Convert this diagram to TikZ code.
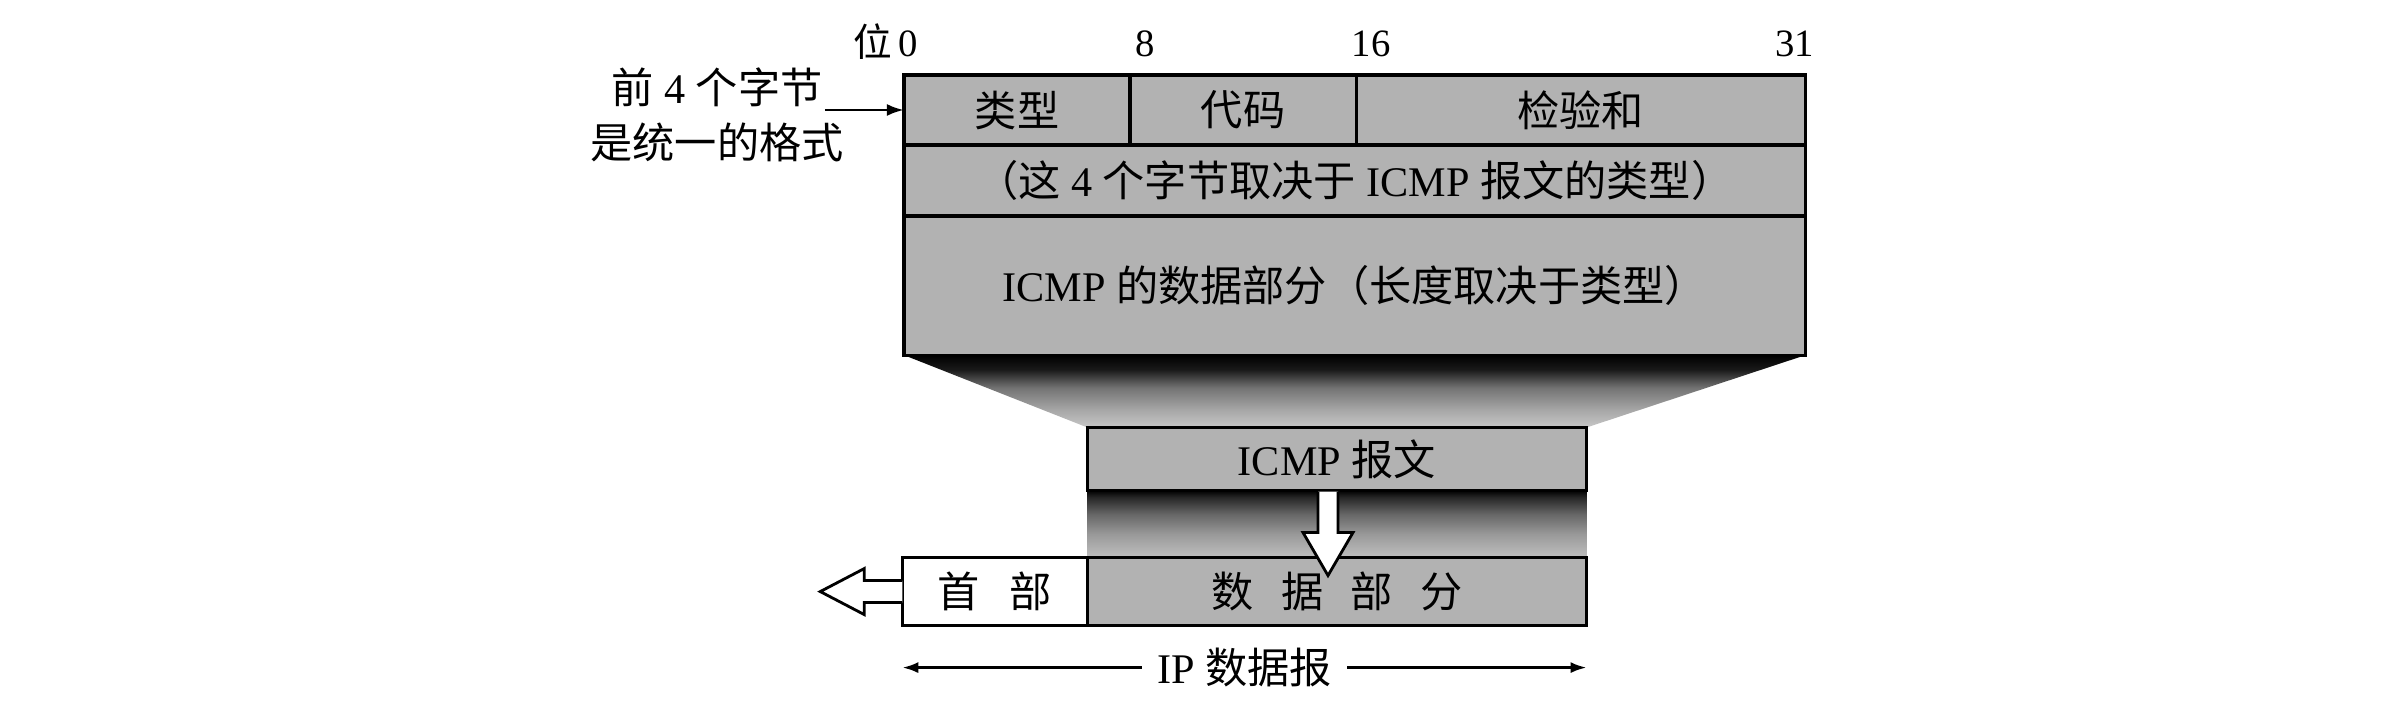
\documentclass[tikz,border=0pt]{standalone}
\usepackage{fontspec}
\setmainfont{Liberation Serif}
\newfontfamily\zh{Noto Sans CJK SC}
\usepackage{tikz}
\usetikzlibrary{positioning,calc,arrows.meta,backgrounds}

% shadow shadings, dark at the top
\pgfdeclareverticalshading{funnel}{100bp}{color(0bp)=(black!22); color(25bp)=(black!22);
  color(37.5bp)=(black!35); color(52.5bp)=(black!55); color(65bp)=(black!90); color(75bp)=(black); color(100bp)=(black)}
\pgfdeclareverticalshading{drop}{100bp}{color(0bp)=(black!25); color(25bp)=(black!25);
  color(42.5bp)=(black!40); color(57.5bp)=(black!60); color(70bp)=(black!85); color(75bp)=(black); color(100bp)=(black)}

\begin{document}
\begin{tikzpicture}[x=0.01cm,y=-0.01cm,
    every node/.style={font=\fontsize{12}{15.6}\selectfont},
    cell/.style={draw,line width=0.9pt,fill=black!30,inner sep=0pt,outer sep=0pt,minimum height=0.70cm},
    bit/.style={anchor=base,font=\fontsize{11}{13}\selectfont},
    hollow/.style={draw,line width=0.8pt,fill=white,line join=miter}]
  \useasboundingbox (0,0) rectangle (2408,722);

  % ICMP header and data
  \node[cell,minimum width=2.26cm] (typ) at (1017,110) {\zh 类型};
  \node[cell,minimum width=2.26cm] (code) [right=0pt of typ] {\zh 代码};
  \node[cell,minimum width=4.49cm] (sum) [right=0pt of code] {\zh 检验和};
  \node[cell,minimum width=9.01cm,minimum height=0.71cm] (opt) [below right=0pt and 0pt of typ.south west]
    {{\zh （这} 4 {\zh 个字节取决于} ICMP {\zh 报文的类型）}};
  \node[cell,minimum width=9.01cm,minimum height=1.39cm] (dat) [below=0pt of opt]
    {ICMP {\zh 的数据部分（长度取决于类型）}};

  % bit positions
  \node[bit,anchor=base east] (b0) at ($(typ.north west)+(26,-18)$) {{\zh 位}\,0};
  \node[bit] (b8) at ($(code.north west)+(15,-18)$) {8};
  \node[bit] (b16) at ($(sum.north west)+(15,-18)$) {16};
  \node[bit] (b31) at ($(sum.north east)+(-11,-18)$) {31};

  \node[align=center] (lead) at (717,115) {{\zh 前} 4 {\zh 个字节}\\{\zh 是统一的格式}};
  \coordinate (fa) at ($(typ.west)+(-79,0)$);
  \draw[line width=0.8pt,-{Latex[length=0.17cm,width=0.12cm]}] (fa) -- (typ.west);

  % ICMP message and IP datagram
  \node[cell,minimum width=4.99cm,minimum height=0.63cm] (icmp) at (1337,459) {ICMP {\zh 报文}};
  \node[cell,minimum width=4.99cm,minimum height=0.68cm] (data) [below=0.67cm of icmp]
    {\zh 数\hspace{0.65em}据\hspace{0.65em}部\hspace{0.65em}分};
  \node[cell,fill=white,minimum width=1.85cm,minimum height=0.68cm] (head) [left=0pt of data]
    {\zh 首\hspace{0.7em}部};

  \begin{scope}[on background layer]
    \shade[shading=funnel]
      (dat.south west) -- (dat.south east) -- (icmp.north east) -- (icmp.north west) -- cycle;
    \shade[shading=drop]
      (icmp.south west) rectangle (data.north east);
  \end{scope}

  \coordinate (dn) at ($(icmp.south)+(-9,1)$);
  \draw[hollow] ($(dn)+(-10,0)$) -- ($(dn)+(-10,41)$) -- ($(dn)+(-25,41)$) -- ($(dn)+(0,84)$)
    -- ($(dn)+(25,41)$) -- ($(dn)+(10,41)$) -- ($(dn)+(10,0)$);

  \draw[hollow] ($(head.west)+(0,-11)$) -- ($(head.west)+(-38,-11)$) -- ($(head.west)+(-38,-23)$)
    -- ($(head.west)+(-82,0)$) -- ($(head.west)+(-38,23)$) -- ($(head.west)+(-38,11)$) -- ($(head.west)+(0,11)$);

  \coordinate (ipl) at ($(head.south west)+(0,42)$);
  \coordinate (ipr) at ($(data.south east)+(0,42)$);
  \draw[line width=0.8pt,{Latex[length=0.16cm,width=0.11cm]}-{Latex[length=0.16cm,width=0.11cm]}]
    (ipl) -- node[fill=white,inner xsep=0.15cm] (ip) {IP {\zh 数据报}} (ipr);
\end{tikzpicture}
\end{document}
